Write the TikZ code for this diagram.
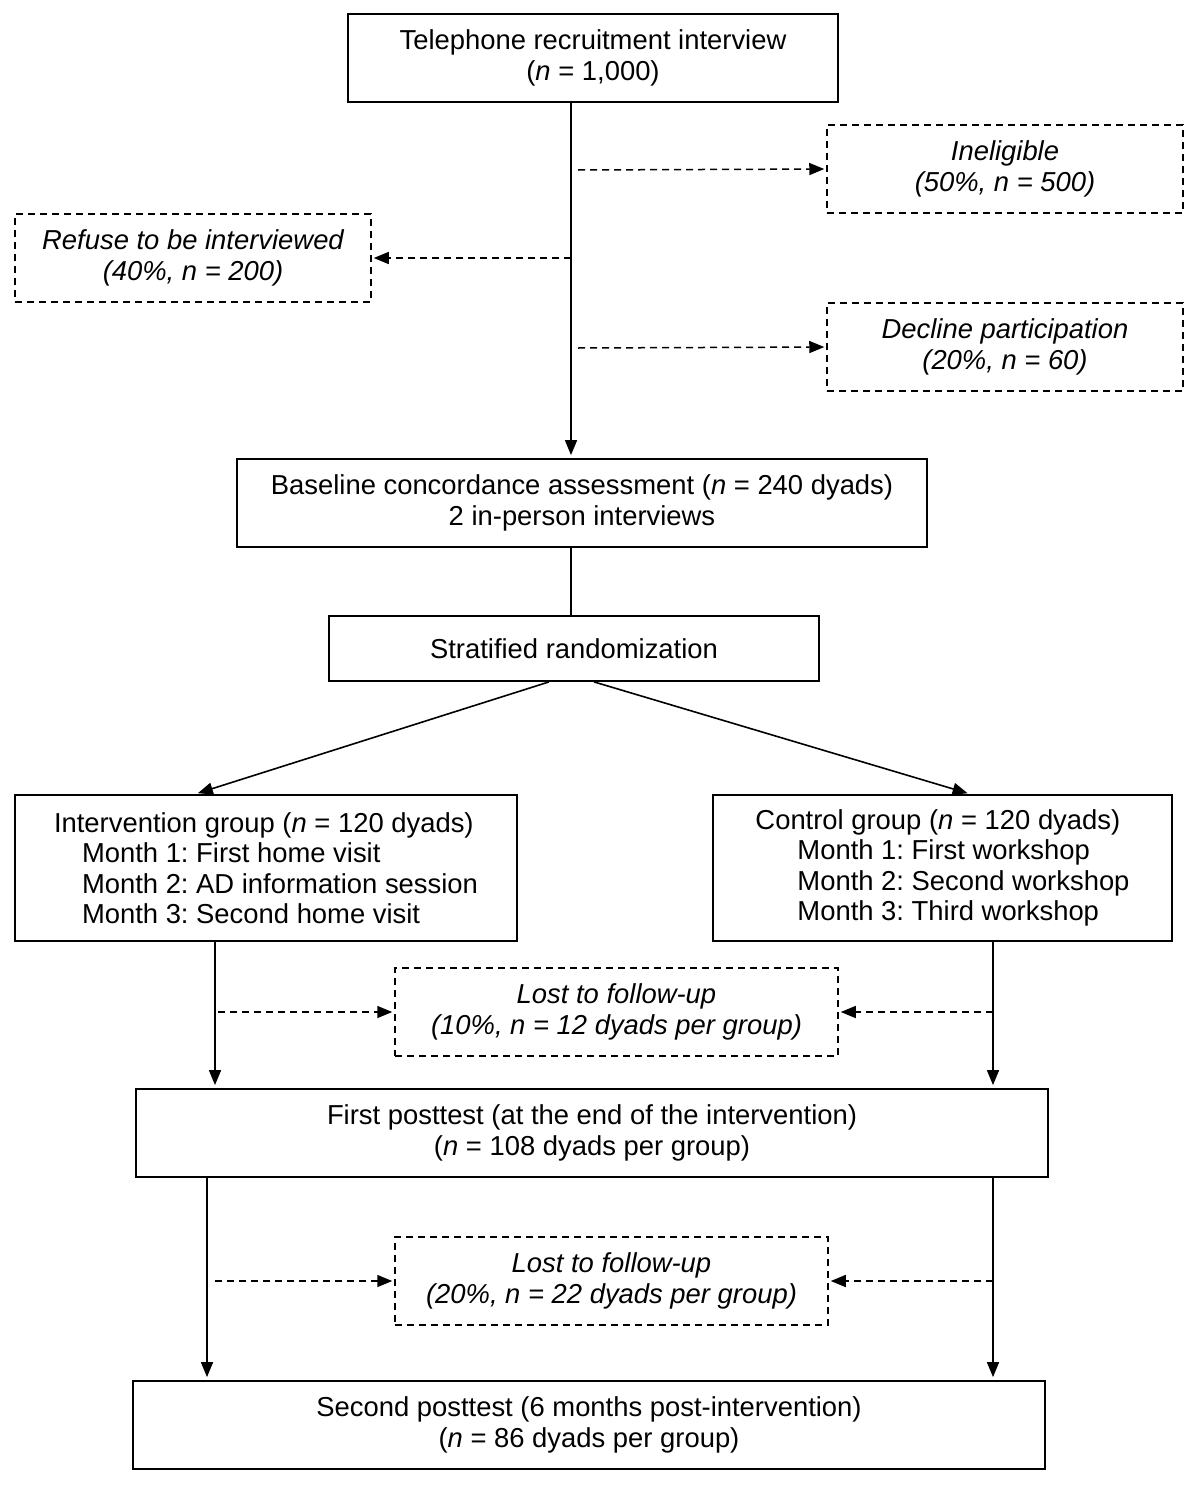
\documentclass[tikz,border=0pt]{standalone}
\usepackage{fontspec}
\setmainfont{Liberation Sans}
\usetikzlibrary{arrows.meta}
\frenchspacing
\newcommand{\fs}{\fontsize{27.4}{30.5}\selectfont}
\tikzset{
  box/.style={draw, line width=1.8pt, inner sep=0pt, font=\fs, align=center},
  dbox/.style={draw, line width=1.5pt, dash pattern=on 7pt off 5pt, inner sep=0pt, font=\fs\itshape, align=center},
  arr/.style={line width=1.6pt, -{Triangle[length=15pt,width=12pt]}, shorten >=3pt},
  darr/.style={line width=1.5pt, dash pattern=on 7pt off 5pt, -{Triangle[length=15pt,width=12pt]}, shorten >=2pt},
  plain/.style={line width=1.6pt}
}
\begin{document}
\begin{tikzpicture}[x=1pt,y=-1pt]
\useasboundingbox (0,0) rectangle (1200,1496);
\fill[white] (0,0) rectangle (1200,1496);
% nodes
\node[box, minimum width=490pt, minimum height=88pt] (tel) at (593,58) {Telephone recruitment interview\\(\textit{n} = 1,000)};
\node[dbox, minimum width=356pt, minimum height=88pt] (inel) at (1005,169) {Ineligible\\(50\%, n = 500)};
\node[dbox, minimum width=356pt, minimum height=88pt] (refuse) at (193,258) {Refuse to be interviewed\\(40\%, n = 200)};
\node[dbox, minimum width=356pt, minimum height=88pt] (decline) at (1005,347) {Decline participation\\(20\%, n = 60)};
\node[box, minimum width=690pt, minimum height=88pt] (base) at (582,503) {Baseline concordance assessment (\textit{n} = 240 dyads)\\2 in-person interviews};
\node[box, minimum width=490pt, minimum height=65pt] (strat) at (574,648.5) {Stratified randomization};
\node[box, minimum width=502pt, minimum height=146pt, align=left] (interv) at (266,868) {Intervention group (\textit{n} = 120 dyads)\\\hspace*{28pt}Month 1: First home visit\\\hspace*{28pt}Month 2: AD information session\\\hspace*{28pt}Month 3: Second home visit};
\node[box, minimum width=459pt, minimum height=146pt, align=left] (control) at (942.5,868) {Control group (\textit{n} = 120 dyads)\\\hspace*{42pt}Month 1: First workshop\\\hspace*{42pt}Month 2: Second workshop\\\hspace*{42pt}Month 3: Third workshop};
\node[dbox, minimum width=443pt, minimum height=88pt] (lost1) at (616.5,1012) {Lost to follow-up\\(10\%, n = 12 dyads per group)};
\node[box, minimum width=912pt, minimum height=88pt] (post1) at (592,1133) {First posttest (at the end of the intervention)\\(\textit{n} = 108 dyads per group)};
\node[dbox, minimum width=433pt, minimum height=88pt] (lost2) at (611.5,1281) {Lost to follow-up\\(20\%, n = 22 dyads per group)};
\node[box, minimum width=912pt, minimum height=88pt] (post2) at (589,1425) {Second posttest (6 months post-intervention)\\(\textit{n} = 86 dyads per group)};
% helper coordinates
\coordinate (xM) at (571,0);
\coordinate (xMd) at (578,0);
\coordinate (xL1) at (215,0);
\coordinate (xL1d) at (218,0);
\coordinate (xL2) at (207,0);
\coordinate (xL2d) at (215,0);
\coordinate (xR) at (993,0);
\coordinate (yInel) at (0,170);
\coordinate (yRef) at (0,258);
\coordinate (yDec) at (0,348);
% main flow
\draw[arr] (tel.south -| xM) -- (base.north -| xM);
\draw[darr] (yInel -| xMd) -- (inel.west);
\draw[darr] (yRef -| xM) -- (refuse.east);
\draw[darr] (yDec -| xMd) -- (decline.west);
\draw[plain] (base.south -| xM) -- (strat.north -| xM);
\draw[arr] ([xshift=-25pt]strat.south) -- ([xshift=-71pt]interv.north);
\draw[arr] ([xshift=20pt]strat.south) -- ([xshift=28pt]control.north);
% to first posttest
\draw[arr] (interv.south -| xL1) -- (post1.north -| xL1);
\draw[arr] (control.south -| xR) -- (post1.north -| xR);
\draw[darr] (lost1.west -| xL1d) -- (lost1.west);
\draw[darr] (lost1.east -| xR) -- (lost1.east);
% to second posttest
\draw[arr] (post1.south -| xL2) -- (post2.north -| xL2);
\draw[arr] (post1.south -| xR) -- (post2.north -| xR);
\draw[darr] (lost2.west -| xL2d) -- (lost2.west);
\draw[darr] (lost2.east -| xR) -- (lost2.east);
\end{tikzpicture}
\end{document}
